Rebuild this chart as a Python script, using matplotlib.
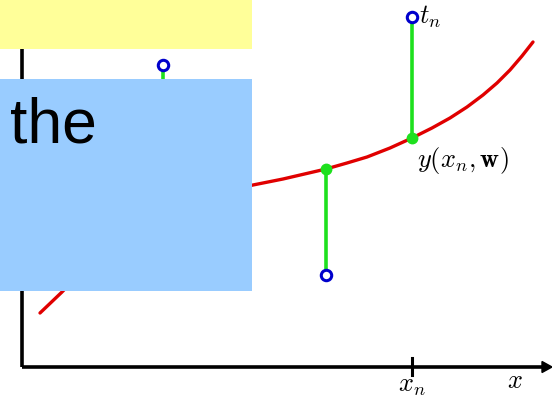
import matplotlib
matplotlib.use("Agg")
import matplotlib.pyplot as plt
from matplotlib.patches import Rectangle, Polygon

plt.rcParams['mathtext.fontset'] = 'cm'

# fitted curve y(x, w), sampled along x
curve_x = [0.18, 0.40, 0.60, 0.80, 1.00, 1.20, 1.40, 1.60, 1.80, 2.00, 2.31, 2.61, 3.04,
           3.25, 3.45, 3.68, 3.90, 4.10, 4.28, 4.45, 4.61, 4.75, 4.88, 5.00, 5.11]
curve_y = [0.54, 0.75, 0.96, 1.14, 1.29, 1.42, 1.53, 1.62, 1.69, 1.75, 1.82, 1.88, 1.98,
           2.04, 2.10, 2.19, 2.29, 2.39, 2.49, 2.60, 2.72, 2.84, 2.97, 3.11, 3.25]

# observed targets t_n and model predictions y(x_n, w)
data_x = [1.41, 3.04, 3.90]
data_t = [3.02, 0.92, 3.50]
data_pred = [1.53, 1.98, 2.29]

xn_tick = 3.90

fig = plt.figure(figsize=(5.52, 3.98), dpi=100)
ax = fig.add_axes([0, 0, 1, 1])
ax.set_xlim(-0.22, 5.30)
ax.set_ylim(-0.31, 3.67)
ax.axis('off')

# axes with arrow heads
ax.plot([0, 5.22], [0, 0], color='black', lw=2.6, solid_capstyle='butt', zorder=2)
ax.plot([0, 0], [0, 3.55], color='black', lw=2.6, solid_capstyle='butt', zorder=2)
ax.add_patch(Polygon([[5.20, 0.055], [5.30, 0], [5.20, -0.055]], closed=True,
                     color='black', zorder=2))
ax.add_patch(Polygon([[-0.055, 3.52], [0, 3.64], [0.055, 3.52]], closed=True,
                     color='black', zorder=2))
ax.plot([xn_tick, xn_tick], [-0.08, 0.09], color='black', lw=2.2, zorder=2)

ax.plot(curve_x, curve_y, color='#e00000', lw=2.4, solid_capstyle='round',
        solid_joinstyle='round', zorder=3)

for x, t, p in zip(data_x, data_t, data_pred):
    ax.plot([x, x], [t, p], color='#1ee01e', lw=2.6, zorder=3)
    ax.plot(x, p, 'o', color='#1ee01e', ms=7.5, zorder=4)
    ax.plot(x, t, 'o', mfc='white', mec='#0000cc', mew=2.2, ms=7.5, zorder=5)

ax.text(3.97, 3.50, r'$t_n$', fontsize=19, ha='left', va='center')
ax.text(3.95, 2.07, r'$y(x_n, \mathbf{w})$', fontsize=19, ha='left', va='center')
ax.text(3.90, -0.185, r'$x_n$', fontsize=19, ha='center', va='center')
ax.text(4.93, -0.14, r'$x$', fontsize=19, ha='center', va='center')

# overlay boxes
W, H = 552.0, 398.0
fig.patches.append(Rectangle((0, 1 - 49 / H), 252 / W, 49 / H, transform=fig.transFigure,
                             facecolor='#ffff99', edgecolor='none', zorder=10))
fig.patches.append(Rectangle((0, 1 - 291 / H), 252 / W, 212 / H, transform=fig.transFigure,
                             facecolor='#99ccff', edgecolor='none', zorder=10))
fig.text(10 / W, 1 - 126 / H, 'the', fontsize=45, family='Liberation Sans',
         ha='left', va='center', zorder=11)

fig.savefig('out.png', dpi=100)
